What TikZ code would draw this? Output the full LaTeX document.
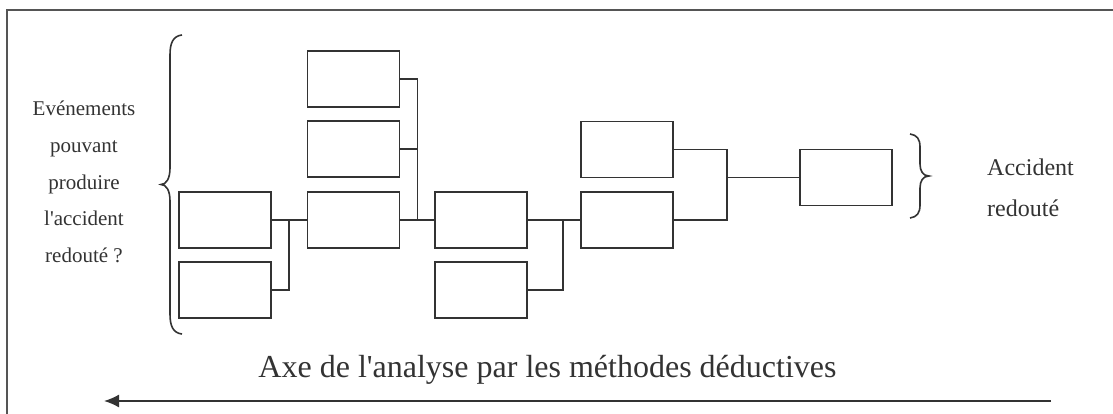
\documentclass[tikz,border=0pt]{standalone}
\usepackage{fontspec}
\setmainfont{Liberation Serif}
\usetikzlibrary{arrows.meta}
\definecolor{ink}{HTML}{333333}
\definecolor{frame}{HTML}{555555}
\begin{document}
\begin{tikzpicture}[x=1pt,y=-1pt,
  evbox/.style={draw=ink,line width=1.7pt,minimum width=92pt,minimum height=56pt,inner sep=0pt},
  conn/.style={draw=ink,line width=1.5pt},
  bracepath/.style={draw=ink,line width=1.6pt},
  lbl/.style={text=ink,inner sep=0pt}]
\useasboundingbox (0,0) rectangle (1113,414);
% frame
\draw[frame,line width=1.6pt] (7,414) -- (7,10) -- (1113,10);
% boxes
\node[evbox] (A1) at (225,220) {};
\node[evbox] (A2) at (225,290) {};
\node[evbox] (B1) at (353.5,79) {};
\node[evbox] (B2) at (353.5,149) {};
\node[evbox] (B3) at (353.5,220) {};
\node[evbox] (C1) at (481,220) {};
\node[evbox] (C2) at (481,290) {};
\node[evbox] (D1) at (627,149.5) {};
\node[evbox] (D2) at (627,220) {};
\node[evbox] (E) at (846,177.5) {};
% junction points
\coordinate (m1) at (289,220);
\coordinate (m2) at (417.5,220);
\coordinate (m3) at (563,220);
\coordinate (m4) at (727,220);
% connectors
\draw[conn] (A1.east) -- (B3.west);
\draw[conn] (A2.east) -| (m1);
\draw[conn] (B3.east) -- (C1.west);
\draw[conn] (B1.east) -| (m2);
\draw[conn] (B2.east) -- (B2.east -| m2);
\draw[conn] (C1.east) -- (D2.west);
\draw[conn] (C2.east) -| (m3);
\draw[conn] (D1.east) -| (m4) -- (D2.east);
\draw[conn] (E.west) -- (E.west -| m4);
% braces
\draw[bracepath] (182,35) .. controls (173,36) and (170,43) .. (170,55) -- (170,168)
  .. controls (170,179) and (166,184.5) .. (161,184.5)
  .. controls (166,184.5) and (170,190) .. (170,201) -- (170,314)
  .. controls (170,326) and (173,333) .. (182,334);
\draw[bracepath] (910,134) .. controls (917,135) and (920,139) .. (920,147) -- (920,164)
  .. controls (920,171) and (923,176) .. (929,176)
  .. controls (923,176) and (920,181) .. (920,188) -- (920,205)
  .. controls (920,213) and (917,217) .. (910,218);
% texts
\node[lbl,align=center,font=\fontsize{21}{36.7}\selectfont] (left) at (84,182)
  {Evénements\\pouvant\\produire\\l\textquotesingle accident\\redouté ?};
\node[lbl,align=left,anchor=west,font=\fontsize{24}{41}\selectfont] (right) at (987,188)
  {Accident\\redouté};
\node[lbl,anchor=base,font=\fontsize{32}{38}\selectfont] (axis) at (547.5,377)
  {Axe de l\textquotesingle analyse par les méthodes déductives};
% arrow
\coordinate (arrS) at (1051,401);
\coordinate (arrE) at (104,401);
\draw[draw=ink,line width=1.6pt,-{Latex[length=15pt,width=13pt]}] (arrS) -- (arrE);
\end{tikzpicture}
\end{document}
